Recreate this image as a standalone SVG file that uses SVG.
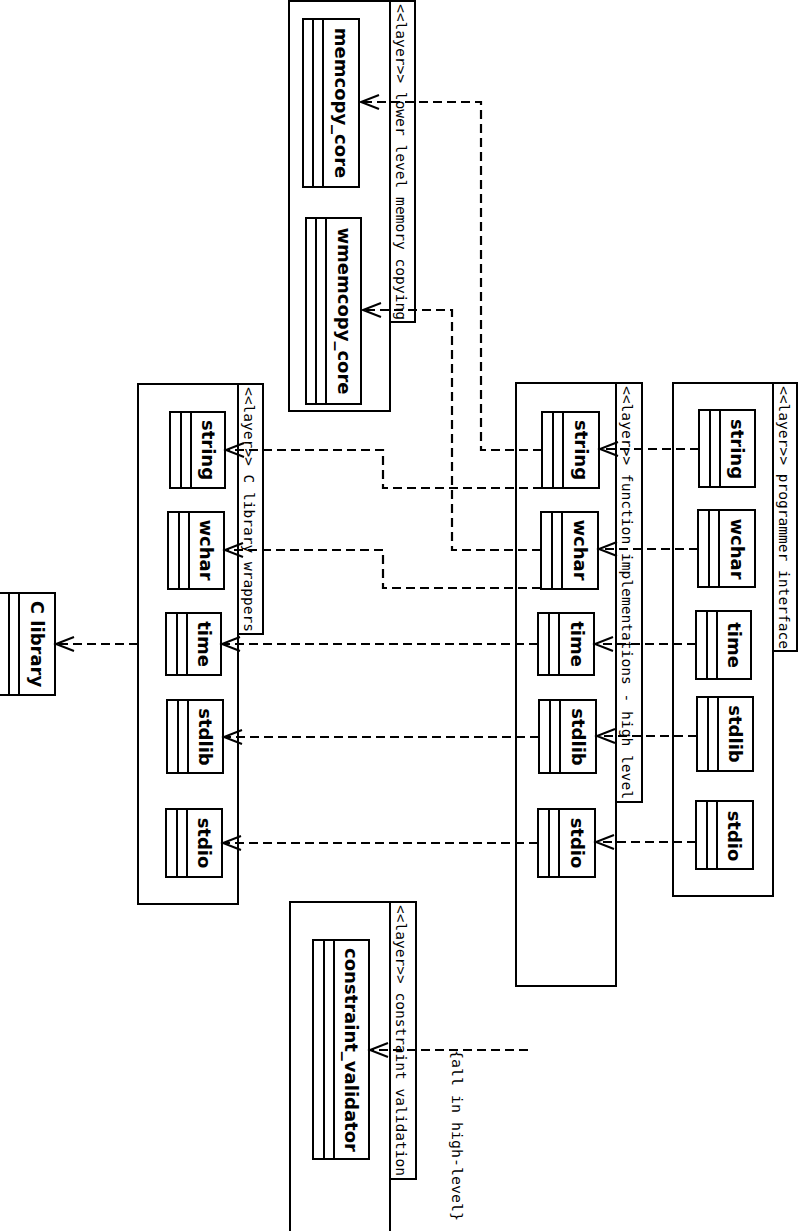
<svg xmlns="http://www.w3.org/2000/svg" width="798" height="1231" viewBox="0 0 798 1231">
<style>
.layer{fill:#fff;stroke:#000;stroke-width:2}
.tab{fill:#fff;stroke:#000;stroke-width:2}
.box{fill:#fff;stroke:#000;stroke-width:2}
.ln{stroke:#000;stroke-width:2;fill:none}
.ltxt{font-family:"DejaVu Sans Mono","Liberation Mono",monospace;font-size:14.5px;fill:#000}
.ntxt{font-family:"DejaVu Sans","Liberation Sans",sans-serif;font-size:18px;font-weight:bold;fill:#000;text-anchor:middle}
.dep{fill:none;stroke:#000;stroke-width:2.2;stroke-dasharray:9 5;marker-end:url(#open)}
</style>
<defs>
<marker id="open" markerUnits="userSpaceOnUse" viewBox="-22 -10 24 20" refX="0" refY="0" markerWidth="24" markerHeight="20" orient="auto" overflow="visible">
<path d="M-18,-7 L0,0 L-18,7" fill="none" stroke="#000" stroke-width="2"/>
</marker>
</defs>

<!-- layer: lower level memory copying -->
<g id="layer-lower">
<rect class="layer" x="289" y="1" width="101" height="410"/>
<rect class="tab" x="390" y="1" width="25" height="321"/>
<text class="ltxt" transform="translate(396,4) rotate(90)" textLength="316" lengthAdjust="spacingAndGlyphs">&lt;&lt;layer&gt;&gt; lower level memory copying</text>
</g>
<g id="memcopy_core">
<rect class="box" x="303" y="19" width="56" height="168"/>
<line class="ln" x1="313" y1="19" x2="313" y2="187"/><line class="ln" x1="323" y1="19" x2="323" y2="187"/>
<text class="ntxt" transform="translate(335,103) rotate(90)">memcopy_core</text>
</g>
<g id="wmemcopy_core">
<rect class="box" x="306" y="218" width="55" height="186"/>
<line class="ln" x1="316" y1="218" x2="316" y2="404"/><line class="ln" x1="326" y1="218" x2="326" y2="404"/>
<text class="ntxt" transform="translate(338,311) rotate(90)">wmemcopy_core</text>
</g>

<!-- layer: C library wrappers -->
<g id="layer-wrappers">
<rect class="layer" x="138" y="384" width="100" height="520"/>
<rect class="tab" x="238" y="384" width="25" height="250"/>
<text class="ltxt" transform="translate(244,387) rotate(90)" textLength="245" lengthAdjust="spacingAndGlyphs">&lt;&lt;layer&gt;&gt; C library wrappers</text>
</g>
<g id="w-string">
<rect class="box" x="170" y="412" width="55" height="76"/>
<line class="ln" x1="181" y1="412" x2="181" y2="488"/><line class="ln" x1="191" y1="412" x2="191" y2="488"/>
<text class="ntxt" transform="translate(202,450) rotate(90)">string</text>
</g>
<g id="w-wchar">
<rect class="box" x="168" y="512" width="56" height="77"/>
<line class="ln" x1="179" y1="512" x2="179" y2="589"/><line class="ln" x1="189" y1="512" x2="189" y2="589"/>
<text class="ntxt" transform="translate(200,550) rotate(90)">wchar</text>
</g>
<g id="w-time">
<rect class="box" x="166" y="613" width="55" height="62"/>
<line class="ln" x1="177" y1="613" x2="177" y2="675"/><line class="ln" x1="187" y1="613" x2="187" y2="675"/>
<text class="ntxt" transform="translate(198,644) rotate(90)">time</text>
</g>
<g id="w-stdlib">
<rect class="box" x="167" y="700" width="56" height="73"/>
<line class="ln" x1="178" y1="700" x2="178" y2="773"/><line class="ln" x1="188" y1="700" x2="188" y2="773"/>
<text class="ntxt" transform="translate(199,737) rotate(90)">stdlib</text>
</g>
<g id="w-stdio">
<rect class="box" x="166" y="809" width="56" height="68"/>
<line class="ln" x1="177" y1="809" x2="177" y2="877"/><line class="ln" x1="187" y1="809" x2="187" y2="877"/>
<text class="ntxt" transform="translate(198,843) rotate(90)">stdio</text>
</g>

<!-- layer: function implementations - high level -->
<g id="layer-functions">
<rect class="layer" x="516" y="383" width="100" height="603"/>
<rect class="tab" x="616" y="383" width="26" height="419"/>
<text class="ltxt" transform="translate(622,386) rotate(90)" textLength="413" lengthAdjust="spacingAndGlyphs">&lt;&lt;layer&gt;&gt; function implementations - high level</text>
</g>
<g id="f-string">
<rect class="box" x="542" y="412" width="57" height="76"/>
<line class="ln" x1="553" y1="412" x2="553" y2="488"/><line class="ln" x1="563" y1="412" x2="563" y2="488"/>
<text class="ntxt" transform="translate(575,450) rotate(90)">string</text>
</g>
<g id="f-wchar">
<rect class="box" x="541" y="512" width="57" height="77"/>
<line class="ln" x1="552" y1="512" x2="552" y2="589"/><line class="ln" x1="562" y1="512" x2="562" y2="589"/>
<text class="ntxt" transform="translate(574,550) rotate(90)">wchar</text>
</g>
<g id="f-time">
<rect class="box" x="538" y="613" width="56" height="62"/>
<line class="ln" x1="549" y1="613" x2="549" y2="675"/><line class="ln" x1="559" y1="613" x2="559" y2="675"/>
<text class="ntxt" transform="translate(571,644) rotate(90)">time</text>
</g>
<g id="f-stdlib">
<rect class="box" x="539" y="700" width="57" height="73"/>
<line class="ln" x1="550" y1="700" x2="550" y2="773"/><line class="ln" x1="560" y1="700" x2="560" y2="773"/>
<text class="ntxt" transform="translate(572,737) rotate(90)">stdlib</text>
</g>
<g id="f-stdio">
<rect class="box" x="538" y="809" width="57" height="68"/>
<line class="ln" x1="549" y1="809" x2="549" y2="877"/><line class="ln" x1="559" y1="809" x2="559" y2="877"/>
<text class="ntxt" transform="translate(571,843) rotate(90)">stdio</text>
</g>

<!-- layer: programmer interface -->
<g id="layer-programmer">
<rect class="layer" x="673" y="383" width="100" height="513"/>
<rect class="tab" x="773" y="383" width="24" height="268"/>
<text class="ltxt" transform="translate(779,386) rotate(90)" textLength="263" lengthAdjust="spacingAndGlyphs">&lt;&lt;layer&gt;&gt; programmer interface</text>
</g>
<g id="p-string">
<rect class="box" x="699" y="410" width="56" height="77"/>
<line class="ln" x1="710" y1="410" x2="710" y2="487"/><line class="ln" x1="720" y1="410" x2="720" y2="487"/>
<text class="ntxt" transform="translate(731,449) rotate(90)">string</text>
</g>
<g id="p-wchar">
<rect class="box" x="698" y="510" width="57" height="77"/>
<line class="ln" x1="709" y1="510" x2="709" y2="587"/><line class="ln" x1="719" y1="510" x2="719" y2="587"/>
<text class="ntxt" transform="translate(731,549) rotate(90)">wchar</text>
</g>
<g id="p-time">
<rect class="box" x="696" y="611" width="55" height="68"/>
<line class="ln" x1="707" y1="611" x2="707" y2="679"/><line class="ln" x1="717" y1="611" x2="717" y2="679"/>
<text class="ntxt" transform="translate(728,645) rotate(90)">time</text>
</g>
<g id="p-stdlib">
<rect class="box" x="697" y="697" width="56" height="74"/>
<line class="ln" x1="708" y1="697" x2="708" y2="771"/><line class="ln" x1="718" y1="697" x2="718" y2="771"/>
<text class="ntxt" transform="translate(729,734) rotate(90)">stdlib</text>
</g>
<g id="p-stdio">
<rect class="box" x="696" y="801" width="57" height="68"/>
<line class="ln" x1="707" y1="801" x2="707" y2="869"/><line class="ln" x1="717" y1="801" x2="717" y2="869"/>
<text class="ntxt" transform="translate(728,836) rotate(90)">stdio</text>
</g>

<!-- layer: constraint validation -->
<g id="layer-constraint">
<rect class="layer" x="290" y="902" width="100" height="340"/>
<rect class="tab" x="390" y="902" width="26" height="277"/>
<text class="ltxt" transform="translate(396,905) rotate(90)" textLength="271" lengthAdjust="spacingAndGlyphs">&lt;&lt;layer&gt;&gt; constraint validation</text>
</g>
<g id="constraint_validator">
<rect class="box" x="313" y="940" width="56" height="219"/>
<line class="ln" x1="324" y1="940" x2="324" y2="1159"/><line class="ln" x1="334" y1="940" x2="334" y2="1159"/>
<text class="ntxt" transform="translate(345,1050) rotate(90)">constraint_validator</text>
</g>

<!-- C library -->
<g id="c-library">
<rect class="box" x="-1" y="593" width="56" height="102"/>
<line class="ln" x1="9" y1="593" x2="9" y2="695"/><line class="ln" x1="19" y1="593" x2="19" y2="695"/>
<text class="ntxt" transform="translate(31,644) rotate(90)">C library</text>
</g>

<!-- connectors -->
<g id="connectors">
<path class="dep" d="M699,449 H600"/>
<path class="dep" d="M698,549 H599"/>
<path class="dep" d="M696,644 H595"/>
<path class="dep" d="M697,736 H597"/>
<path class="dep" d="M696,842 H596"/>
<path class="dep" d="M542,450 H481 V102 H361"/>
<path class="dep" d="M542,488 H383 V450 H226"/>
<path class="dep" d="M541,550 H452 V310 H363"/>
<path class="dep" d="M541,588 H383 V550 H225"/>
<path class="dep" d="M538,644 H222"/>
<path class="dep" d="M539,737 H224"/>
<path class="dep" d="M538,843 H223"/>
<path class="dep" d="M138,644 H56"/>
<path class="dep" d="M528,1050 H370"/>
<text class="ltxt" transform="translate(452,1050) rotate(90)" textLength="171" lengthAdjust="spacingAndGlyphs">{all in high-level}</text>
</g>
</svg>
